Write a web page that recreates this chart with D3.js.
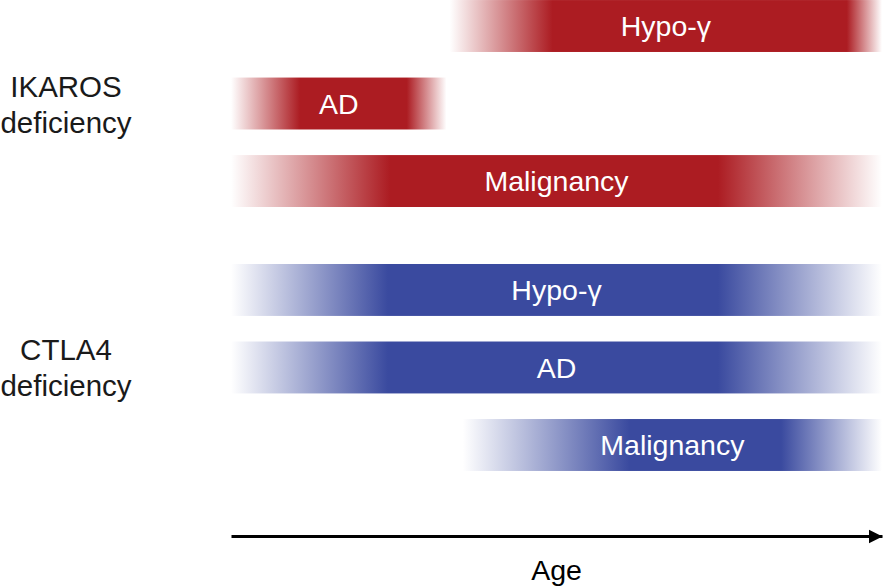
<!DOCTYPE html>
<html>
<head>
<meta charset="utf-8">
<script src="https://cdn.jsdelivr.net/npm/d3@7"></script>
<style>
  html, body { margin: 0; padding: 0; background: #fff; }
  text { font-family: "Liberation Sans", Arial, sans-serif; }
</style>
</head>
<body>
<div class="canvas"></div>
<script>
// disease groups and the bars (manifestations) inside each
const groups = ['IKAROS deficiency', 'CTLA4 deficiency']
const groupColors = ['#ac1c22', '#3a4a9f']
const manifestations = ['Hypo-γ', 'AD', 'Malignancy']

// age span of each bar, 0-100 along the age arrow:
// fade-in start, full colour start, full colour end, fade-out end
const ikarosSpans = [
  [33.6, 49.4, 94.6, 100],
  [0, 10.6, 27, 33.1],
  [0, 24.4, 74.8, 100]
]
const ctla4Spans = [
  [0, 24.1, 74.8, 100],
  [0, 24.1, 74.8, 100],
  [35.6, 61.2, 84.5, 100]
]
const ageDomain = [0, 100]
const axisLabel = 'Age'

const width = 886
const height = 588

const svg = d3.select('.canvas')
  .append('svg')
  .attr('width', width)
  .attr('height', height)

const defs = svg.append('defs')

const x = d3.scaleLinear()
  .domain(ageDomain)
  .range([231, 882])

const groupY = d3.scaleBand()
  .domain(groups)
  .range([-12.75, 483.75])
  .paddingInner(0.119)

const rowY = d3.scaleBand()
  .domain(manifestations)
  .range([0, groupY.bandwidth()])
  .paddingInner(0.33)
  .paddingOuter(0.165)

const rows = []
;[ikarosSpans, ctla4Spans].forEach((spans, g) => {
  spans.forEach((span, i) => {
    rows.push({group: groups[g], color: groupColors[g], name: manifestations[i], span})
  })
})

// one gradient per bar so both ends can fade out
rows.forEach((d, i) => {
  const [a, b, c, e] = d.span
  const grad = defs.append('linearGradient')
    .attr('id', `fade-${i}`)
    .attr('gradientUnits', 'userSpaceOnUse')
    .attr('x1', x(a)).attr('x2', x(e))
    .attr('y1', 0).attr('y2', 0)
  const stops = [[0, 0], [(b - a) / (e - a), 1], [(c - a) / (e - a), 1], [1, 0]]
  stops.forEach(([offset, opacity]) => {
    grad.append('stop')
      .attr('offset', offset)
      .attr('stop-color', d.color)
      .attr('stop-opacity', opacity)
  })
})

const bars = svg.append('g')
  .selectAll('g')
  .data(rows)
  .join('g')
  .attr('transform', d => `translate(0, ${groupY(d.group) + rowY(d.name)})`)

bars.append('rect')
  .attr('x', d => x(d.span[0]))
  .attr('width', d => x(d.span[3]) - x(d.span[0]))
  .attr('height', rowY.bandwidth())
  .attr('fill', (d, i) => `url(#fade-${i})`)

bars.append('text')
  .attr('x', d => (x(d.span[0]) + x(d.span[3])) / 2)
  .attr('y', rowY.bandwidth() / 2)
  .attr('dy', '0.36em')
  .attr('text-anchor', 'middle')
  .attr('fill', '#fff')
  .attr('font-size', 28.5)
  .text(d => d.name)

// group labels on the left, centred on the middle row
const labels = svg.append('g')
  .selectAll('text')
  .data(groups)
  .join('text')
  .attr('text-anchor', 'middle')
  .attr('fill', '#1a1a1a')
  .attr('font-size', 29.5)
  .attr('transform', d => `translate(66, ${groupY(d) + rowY(manifestations[1]) + rowY.bandwidth() / 2})`)

labels.selectAll('tspan')
  .data(d => d.split(' '))
  .join('tspan')
  .attr('x', 0)
  .attr('y', (d, i) => i === 0 ? -7 : 29)
  .text(d => d)

// age arrow
defs.append('marker')
  .attr('id', 'arrow')
  .attr('viewBox', '0 0 10 10')
  .attr('refX', 10)
  .attr('refY', 5)
  .attr('markerUnits', 'userSpaceOnUse')
  .attr('markerWidth', 14)
  .attr('markerHeight', 16)
  .attr('orient', 'auto')
  .append('path')
  .attr('d', 'M0,0L10,5L0,10Z')
  .attr('fill', '#000')

const axisGroup = svg.append('g')
  .attr('transform', 'translate(0, 536)')
  .call(d3.axisBottom(x).ticks(0).tickSizeOuter(0))

axisGroup.select('.domain')
  .attr('stroke', '#000')
  .attr('stroke-width', 3)
  .attr('marker-end', 'url(#arrow)')

axisGroup.append('text')
  .attr('x', (x.range()[0] + x.range()[1]) / 2)
  .attr('y', 44)
  .attr('text-anchor', 'middle')
  .attr('fill', '#000')
  .attr('font-size', 28.5)
  .text(axisLabel)
</script>
</body>
</html>
